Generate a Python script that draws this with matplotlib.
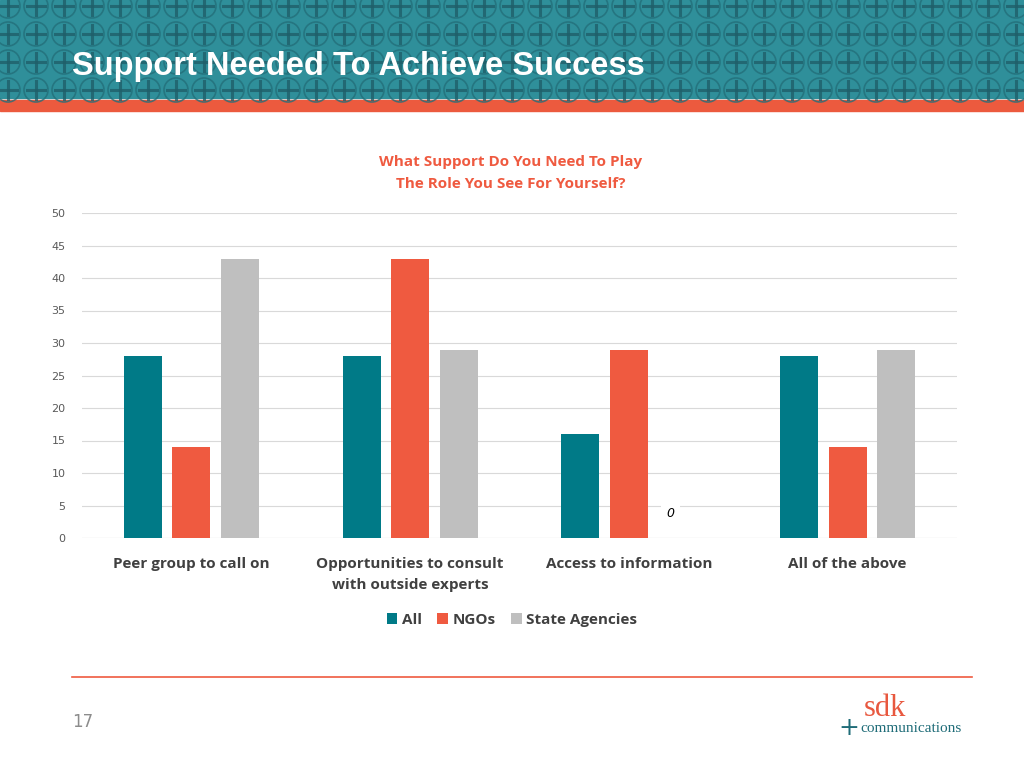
import matplotlib
matplotlib.use("Agg")
import matplotlib.pyplot as plt
from matplotlib.patches import Rectangle, Circle
import numpy as np

categories = ["Peer group to call on", "Opportunities to consult\nwith outside experts",
              "Access to information", "All of the above"]
series = ["All", "NGOs", "State Agencies"]
all_vals = [28, 28, 16, 28]
ngo_vals = [14, 43, 29, 14]
state_vals = [43, 29, 0, 29]
colors = ["#007a87", "#ef5a40", "#bfbfbf"]
yticks = [0, 5, 10, 15, 20, 25, 30, 35, 40, 45, 50]

fig = plt.figure(figsize=(10.24, 7.68), dpi=100)
W, H = 1024, 768

# header
bg = fig.add_axes([0, 0, 1, 1], zorder=-1)
bg.set_xlim(0, W); bg.set_ylim(H, 0); bg.axis("off")
bg.add_patch(Rectangle((0, 0), W, 98, color="#2f8f9a"))
bg.add_patch(Rectangle((0, 100), W, 11, color="#ec5a3e"))
for yy in [6, 34, 62, 90]:
    for xx in np.arange(8, W + 20, 28):
        bg.add_patch(Circle((xx, yy), 12, fill=False, ec="#236f7a", lw=1.2, alpha=0.8))
        bg.plot([xx - 9, xx + 9], [yy, yy], color="#1f5f6a", lw=2.2, alpha=0.8)
        bg.plot([xx, xx], [yy - 9, yy + 9], color="#1f5f6a", lw=2.2, alpha=0.8)
bg.text(72, 67, "Support Needed To Achieve Success", color="white", fontsize=23.5,
        fontweight="bold", family="Liberation Sans", va="center")
bg.plot([72, 972], [677, 677], color="#ef5a40", lw=1.2)
bg.text(72, 722, "17", color="#8c8c8c", fontsize=12, va="center")
bg.text(885, 708, "sdk", color="#e8583f", fontsize=22, family="Liberation Serif", ha="center", va="center")
bg.text(860, 729, "communications", color="#1f6c78", fontsize=11, family="Liberation Serif", va="center")
bg.text(849, 728, "+", color="#1f6c78", fontsize=18, ha="center", va="center")

ax = fig.add_axes([82 / W, 1 - 538 / H, 875 / W, 325 / H])
x = np.arange(len(categories))
w = 0.174
off = 0.222
for i, (vals, c) in enumerate(zip([all_vals, ngo_vals, state_vals], colors)):
    ax.bar(x + (i - 1) * off, vals, width=w, color=c, label=series[i], zorder=3)
ax.text(x[2] + off * 0.85, 3.7, "0", style="italic", fontsize=9, ha="center", va="center",
        bbox=dict(fc="white", ec="none", pad=4), zorder=4)
ax.set_xlim(-0.5, 3.5)
ax.set_ylim(0, 50)
ax.set_yticks(yticks)
ax.tick_params(axis="y", length=0, labelsize=8, labelcolor="#595959", pad=12)
ax.tick_params(axis="x", length=0, labelsize=11, labelcolor="#404040", pad=14)
ax.set_xticks(x)
ax.set_xticklabels(categories, fontweight="bold", family="Open Sans")
for l in ax.get_xticklabels():
    l.set_linespacing(1.6)
ax.grid(axis="y", color="#d9d9d9", lw=0.8, zorder=0)
for s in ax.spines.values():
    s.set_visible(False)
ax.axhline(0, color="#d9d9d9", lw=0.8)
ax.set_title("What Support Do You Need To Play\nThe Role You See For Yourself?", color="#ef5a40",
             fontsize=11, fontweight="bold", family="Open Sans", pad=18, linespacing=1.7, x=0.49)
leg = fig.legend(*ax.get_legend_handles_labels(), loc="center", bbox_to_anchor=(512 / W, 1 - 620 / H),
                 ncol=3, frameon=False, handlelength=0.7, handleheight=0.7, handletextpad=0.3,
                 columnspacing=1.0, prop=dict(weight="bold", size=11, family="Open Sans"))
for t in leg.get_texts():
    t.set_color("#404040")
fig.savefig("out.png", dpi=100)
